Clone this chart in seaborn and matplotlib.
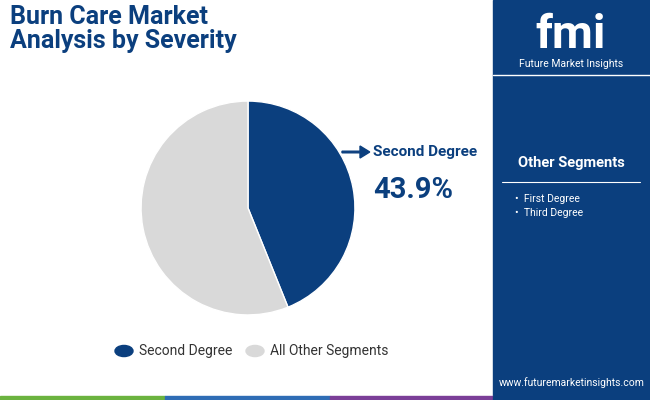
import matplotlib
matplotlib.use("Agg")
import matplotlib.pyplot as plt
import seaborn as sns
from matplotlib.patches import Rectangle, Circle

sns.set_theme(style="white")
plt.rcParams['font.family'] = ['Roboto', 'DejaVu Sans']

labels = ["Second Degree", "All Other Segments"]
values = [43.9, 56.1]
colors = ["#0b3f7e", "#d9d9d9"]
other_segments = ["First Degree", "Third Degree"]
navy = "#0b3f7e"

W, H = 650, 400
fig = plt.figure(figsize=(6.5, 4.0), dpi=100)
def px(x, y):
    return x / W, 1 - y / H

fig.patches.append(Rectangle((493 / W, 0), 1, 1, transform=fig.transFigure, color=navy, zorder=0))
for x0, x1, c in [(0, 165, "#6bb33f"), (165, 330, "#2f6db5"), (330, 493, "#7b3f98"), (493, 650, navy)]:
    fig.patches.append(Rectangle((x0 / W, 0), (x1 - x0) / W, 4 / H, transform=fig.transFigure, color=c, zorder=1))

fig.text(*px(10, 29), "Burn Care Market\nAnalysis by Severity", fontsize=18, fontweight="bold",
         color=navy, va="center", ha="left", linespacing=1.05)

ax = fig.add_axes([140 / W, 1 - 316 / H, 216 / W, 216 / H])
ax.pie(values, colors=colors, startangle=90, counterclock=False)
ax.set_xlim(-1.01, 1.01)
ax.set_ylim(-1.01, 1.01)
ax.set_aspect("equal")

fig.patches.append(matplotlib.patches.FancyArrow(342 / W, 1 - 152 / H, 18 / W, 0, width=0.004,
                   head_width=0.03, head_length=0.015, color=navy, transform=fig.transFigure))
fig.text(*px(373, 152), "Second Degree", fontsize=11, fontweight="bold", color=navy, va="center")
fig.text(*px(373, 190), "43.9%", fontsize=21, fontweight="bold", color=navy, va="center")

for cx, lab, c in [(124, labels[0], colors[0]), (255, labels[1], colors[1])]:
    fig.patches.append(Circle((cx / W, 1 - 351 / H), 9 / W, transform=fig.transFigure, color=c))
    fig.text(*px(cx + 15, 351), lab, fontsize=10, color="#333333", va="center")

fig.text(*px(571, 35), "fmi", fontsize=34, fontweight="bold", color="white", ha="center", va="center")
fig.text(*px(571, 64), "Future Market Insights", fontsize=7.5, color="white", ha="center", va="center")
fig.lines.append(plt.Line2D([493 / W, 1], [1 - 75 / H] * 2, color="white", lw=1, transform=fig.transFigure))
fig.text(*px(571, 163), "Other Segments", fontsize=10.5, fontweight="bold", color="white", ha="center", va="center")
fig.lines.append(plt.Line2D([502 / W, 640 / W], [1 - 182 / H] * 2, color="white", lw=0.8, transform=fig.transFigure))
for i, s in enumerate(other_segments):
    fig.text(*px(515, 199 + 14 * i), "•  " + s, fontsize=7.5, color="white", va="center")
fig.text(*px(572, 383), "www.futuremarketinsights.com", fontsize=7.5, color="white", ha="center", va="center")

fig.savefig("out.png", dpi=100)
